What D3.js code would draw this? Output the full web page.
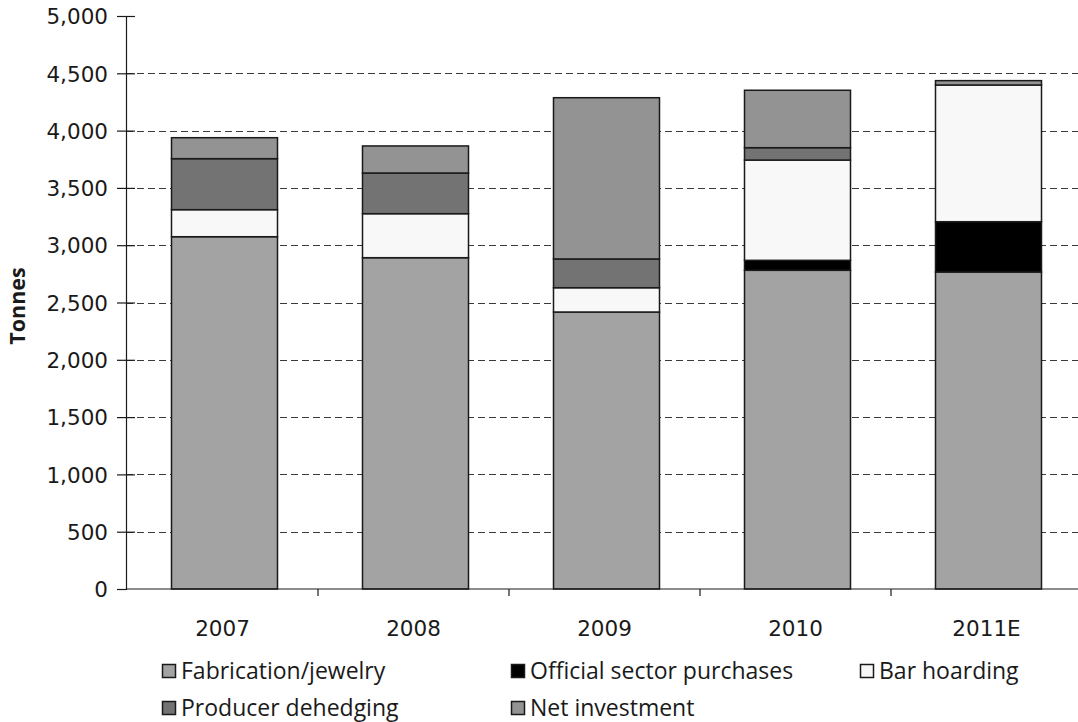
<!DOCTYPE html>
<html>
<head>
<meta charset="utf-8">
<script src="https://cdn.jsdelivr.net/npm/d3@7"></script>
<style>
  html, body { margin: 0; padding: 0; background: #fff; }
  svg text { font-family: "Open Sans", "Noto Sans", sans-serif; fill: #1a1a1a; }
  svg text.num { font-family: "DejaVu Sans", sans-serif; }
</style>
</head>
<body>
<svg id="chart" width="1078" height="722"></svg>
<script>
// Gold demand by component, tonnes
const years = ["2007", "2008", "2009", "2010", "2011E"];
const fabrication = [3074, 2891, 2417, 2781, 2766];
const officialSector = [0, 0, 0, 87, 439];
const barHoarding = [236, 384, 212, 875, 1193];
const producerDehedging = [445, 355, 251, 108, 0];
const netInvestment = [183, 236, 1407, 501, 38];
const yTicks = [0, 500, 1000, 1500, 2000, 2500, 3000, 3500, 4000, 4500, 5000];

const seriesNames = ["Fabrication/jewelry", "Official sector purchases", "Bar hoarding", "Producer dehedging", "Net investment"];
const seriesValues = [fabrication, officialSector, barHoarding, producerDehedging, netInvestment];
const seriesColors = ["#a3a3a3", "#000000", "#f8f8f8", "#737373", "#939393"];

const rows = years.map((y, i) => {
  const r = { year: y };
  seriesNames.forEach((n, k) => { r[n] = seriesValues[k][i]; });
  return r;
});

const svg = d3.select("#chart");
const margin = { left: 126, right: -3, top: 16, bottom: 133 };
const W = 1078, H = 722;

const x = d3.scaleBand().domain(years)
  .range([margin.left, W - margin.right])
  .paddingInner(0.445).paddingOuter(0.2225);
const y = d3.scaleLinear().domain([0, 5000]).range([H - margin.bottom, margin.top]);

// dashed gridlines
svg.append("g")
  .selectAll("line")
  .data(yTicks.filter(t => t > 0 && t < 5000))
  .join("line")
  .attr("x1", margin.left).attr("x2", W)
  .attr("y1", d => Math.round(y(d)) + 0.5).attr("y2", d => Math.round(y(d)) + 0.5)
  .attr("stroke", "#3a3a3a").attr("stroke-width", 1.2)
  .attr("stroke-dasharray", "7,4");

// stacked bars
const stack = d3.stack().keys(seriesNames)(rows);
const color = d3.scaleOrdinal().domain(seriesNames).range(seriesColors);

svg.append("g")
  .selectAll("g")
  .data(stack)
  .join("g")
  .attr("fill", d => color(d.key))
  .selectAll("rect")
  .data(d => d.filter(s => s[1] - s[0] > 0))
  .join("rect")
  .attr("x", d => x(d.data.year) + 3)
  .attr("width", x.bandwidth())
  .attr("y", d => y(d[1]))
  .attr("height", d => y(d[0]) - y(d[1]))
  .attr("stroke", "#1a1a1a")
  .attr("stroke-width", 1.5);

// y axis
const yAxis = svg.append("g")
  .attr("transform", `translate(${margin.left},0)`)
  .call(d3.axisLeft(y).tickValues(yTicks).tickFormat(d3.format(",")).tickSize(9).tickPadding(9));
yAxis.select(".domain").attr("stroke", "#1a1a1a").attr("stroke-width", 1.2);
yAxis.selectAll(".tick line").attr("stroke", "#1a1a1a").attr("stroke-width", 1.2).attr("x2", -9).attr("x1", 9);
yAxis.selectAll(".tick line").filter(d => d === 0).attr("x1", 0);
yAxis.selectAll(".tick text").attr("class", "num").style("font-size", "21.5px").attr("dy", "0.36em");

// x axis with ticks between categories
const xAxisG = svg.append("g").attr("transform", `translate(0,${y(0)})`);
xAxisG.append("line")
  .attr("x1", margin.left).attr("x2", W)
  .attr("stroke", "#1a1a1a").attr("stroke-width", 1.2);
const step = x.step();
xAxisG.selectAll("line.sep")
  .data(years.slice(1))
  .join("line")
  .attr("class", "sep")
  .attr("x1", d => x(d) - step * x.paddingInner() / 2 + 1)
  .attr("x2", d => x(d) - step * x.paddingInner() / 2 + 1)
  .attr("y1", 0).attr("y2", 7)
  .attr("stroke", "#1a1a1a").attr("stroke-width", 1.2);
xAxisG.selectAll("text")
  .data(years)
  .join("text")
  .attr("class", "num")
  .attr("x", d => x(d) + x.bandwidth() / 2 + 1)
  .attr("y", 47)
  .attr("text-anchor", "middle")
  .style("font-size", "21.5px")
  .text(d => d);

// y axis title
svg.append("text")
  .attr("transform", `translate(25,306) rotate(-90)`)
  .attr("text-anchor", "middle")
  .style("font-size", "21.5px")
  .style("font-weight", "bold")
  .text("Tonnes");

// legend
const legendPos = [
  { x: 162, y: 671 }, { x: 511, y: 671 }, { x: 860, y: 671 },
  { x: 162, y: 708 }, { x: 511, y: 708 }
];
const legend = svg.append("g")
  .selectAll("g")
  .data(seriesNames)
  .join("g")
  .attr("transform", (d, i) => `translate(${legendPos[i].x},${legendPos[i].y})`);
legend.append("rect")
  .attr("x", 0.5).attr("y", -6.5)
  .attr("width", 13).attr("height", 13)
  .attr("fill", d => color(d))
  .attr("stroke", "#1a1a1a").attr("stroke-width", 1.5);
legend.append("text")
  .attr("x", 19).attr("dy", "0.35em")
  .style("font-size", "23px")
  .text(d => d);
</script>
</body>
</html>
